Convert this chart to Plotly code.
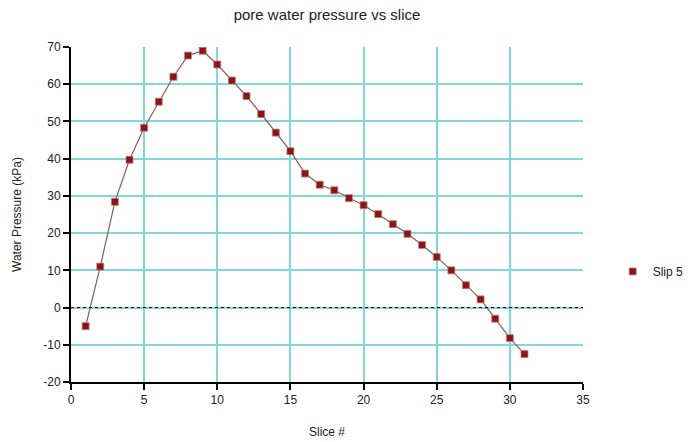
import plotly.graph_objects as go

slices = list(range(1, 32))
pressure = [-5, 11, 28.4, 39.7, 48.3, 55.3, 62, 67.7, 69, 65.3, 61, 56.8, 52, 47, 42,
            36, 33, 31.5, 29.4, 27.5, 25.1, 22.4, 19.8, 16.8, 13.6, 10, 6, 2.2, -3, -8.2, -12.5]
series_name = "Slip 5"
x_ticks = [0, 5, 10, 15, 20, 25, 30, 35]
y_ticks = [-20, -10, 0, 10, 20, 30, 40, 50, 60, 70]
y_labels = [str(v) for v in y_ticks]

fig = go.Figure()
fig.add_trace(go.Scatter(x=slices, y=pressure, mode="lines",
                         line=dict(color="#8a5c5c", width=1.2), showlegend=False, hoverinfo="skip"))
fig.add_trace(go.Scatter(x=slices, y=pressure, mode="markers", name=series_name,
                         marker=dict(symbol="square", size=7, color="#8b1414",
                                     line=dict(color="#c08080", width=0.8))))

fig.add_shape(type="line", xref="paper", yref="y", x0=0, x1=1, y0=0, y1=0,
              line=dict(color="black", width=1, dash="3px,3px"), layer="above")

fig.update_layout(
    width=688, height=442,
    margin=dict(l=71, r=105, t=47, b=60, autoexpand=False),
    paper_bgcolor="white", plot_bgcolor="white",
    font=dict(family="Liberation Sans, Arial, sans-serif", size=12, color="#222"),
    title=dict(text="pore water pressure vs slice", x=0.5, xref="paper", xanchor="center",
               y=0.967, yanchor="middle", font=dict(size=15, color="#222")),
    legend=dict(x=1.058, y=0.33, xanchor="left", yanchor="middle", font=dict(size=12),
                itemwidth=30, bgcolor="rgba(0,0,0,0)"),
    xaxis=dict(range=[0, 35], tickvals=x_ticks, showgrid=True, gridcolor="#80d8d8", gridwidth=2,
               showline=True, linecolor="black", linewidth=2, ticks="outside", ticklen=6,
               tickwidth=2, tickcolor="black", zeroline=False, automargin=False,
               title=dict(text="Slice #", standoff=21, font=dict(size=12))),
    yaxis=dict(range=[-20, 70], tickvals=y_ticks, ticktext=y_labels, showgrid=True,
               gridcolor="#80d8d8", gridwidth=2,
               showline=True, linecolor="black", linewidth=2, ticks="outside", ticklen=6,
               tickwidth=2, tickcolor="black", zeroline=False, automargin=False,
               title=dict(text="Water Pressure (kPa)", standoff=19, font=dict(size=12))),
)

fig.write_html("out.html")
